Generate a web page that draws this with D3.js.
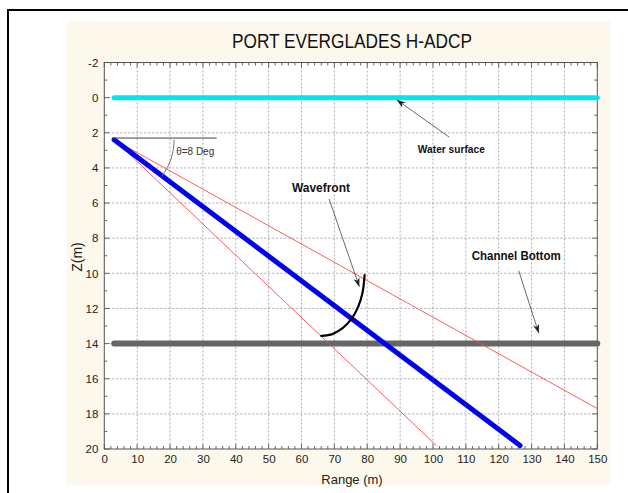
<!DOCTYPE html>
<html><head><meta charset="utf-8">
<script src="https://cdn.jsdelivr.net/npm/d3@7"></script>
<style>body{margin:0;background:#fff}svg{display:block}text{font-family:"Liberation Sans",Arial,sans-serif}</style>
</head><body><svg id="c" width="628" height="493"></svg>
<script>
const title = "PORT EVERGLADES H-ADCP";
const xTicks = [0,10,20,30,40,50,60,70,80,90,100,110,120,130,140,150];
const yTicks = [-2,0,2,4,6,8,10,12,14,16,18,20];
const waterSurface = [[3,0],[150,0]];
const channelBottom = [[3,14],[150,14]];
const beamCenter = [[3,2.4],[126.5,19.8]];
const beamUpper = [[3,2.4],[150,17.7]];
const beamLower = [[3,2.4],[101,19.8]];
const refLine = [[2.3,2.3],[34.2,2.3]];
const wavefront = [[66.0,13.56],[69.5,13.45],[72.6,13.11],[75.25,12.58],[77.3,11.88],[78.6,11.07],[79.2,10.1]];
const labels = [
  {text:"Water surface", x:95.4, y:3.13, len:67, size:11, from:[104.9,2.24], to:[89,0.13]},
  {text:"Wavefront", x:57.1, y:5.35, len:58, size:12.5, from:[68.4,5.77], to:[77.6,10.76]},
  {text:"Channel Bottom", x:111.8, y:9.24, len:89, size:12.5, from:[126.1,9.86], to:[132.2,13.41]}
];

const svg = d3.select("#c");
const L=104.3,R=597.3,T=62.5,B=449;
const x = d3.scaleLinear().domain([0,150]).range([L,R]);
const y = d3.scaleLinear().domain([-2,20]).range([T,B]);

// outer frame
svg.append("rect").attr("x",8).attr("y",10).attr("width",640).attr("height",500).attr("fill","#fff").attr("stroke","#000").attr("stroke-width",2);
// cream panel
svg.append("rect").attr("x",67).attr("y",21).attr("width",543).attr("height",464).attr("fill","#fdf8ec");
// plot bg
svg.append("rect").attr("x",L).attr("y",T).attr("width",R-L).attr("height",B-T).attr("fill","#fff");

// grid
const g = svg.append("g");
g.selectAll(".gx").data(xTicks.slice(1,-1)).join("line").attr("x1",d=>x(d)).attr("x2",d=>x(d)).attr("y1",T).attr("y2",B)
 .attr("stroke","#aaa").attr("stroke-width",1).attr("stroke-dasharray","2,2");
g.selectAll(".gy").data(yTicks.slice(1,-1)).join("line").attr("y1",d=>y(d)).attr("y2",d=>y(d)).attr("x1",L).attr("x2",R)
 .attr("stroke","#aaa").attr("stroke-width",1).attr("stroke-dasharray","2,2");

// axes
const fmt = d => String(d);
const axB = d3.axisBottom(x).tickValues(xTicks).tickSize(0).tickPadding(6).tickFormat(fmt);
const axL = d3.axisLeft(y).tickValues(yTicks).tickSize(0).tickPadding(6).tickFormat(fmt);
const gb = svg.append("g").attr("transform",`translate(0,${B})`).call(axB);
const gl = svg.append("g").attr("transform",`translate(${L},0)`).call(axL);
[gb,gl].forEach(a=>{a.select(".domain").remove();a.selectAll("text").attr("font-size",11.5).attr("fill","#222").attr("font-family","Liberation Sans, Arial, sans-serif");});

// minor/major ticks inside
const minX = d3.range(0,151,2), minY = d3.range(-2,21,1);
const tk = svg.append("g").attr("stroke","#666").attr("stroke-width",1);
minX.forEach(v=>{const len = v%10===0?5:3;
  tk.append("line").attr("x1",x(v)).attr("x2",x(v)).attr("y1",B).attr("y2",B-len);
  tk.append("line").attr("x1",x(v)).attr("x2",x(v)).attr("y1",T).attr("y2",T+len);});
minY.forEach(v=>{const len = v%2===0?5:3;
  tk.append("line").attr("y1",y(v)).attr("y2",y(v)).attr("x1",L).attr("x2",L+len);
  tk.append("line").attr("y1",y(v)).attr("y2",y(v)).attr("x1",R).attr("x2",R-len);});
svg.append("rect").attr("x",L).attr("y",T).attr("width",R-L).attr("height",B-T).attr("fill","none").attr("stroke","#555").attr("stroke-width",1);

const line = d3.line().x(d=>x(d[0])).y(d=>y(d[1]));

// series
svg.append("path").attr("d",line(waterSurface)).attr("stroke","#00e5ee").attr("stroke-width",5).attr("fill","none").attr("stroke-linecap","round");
svg.append("path").attr("d",line(channelBottom)).attr("stroke","#666").attr("stroke-width",6).attr("fill","none").attr("stroke-linecap","round");
svg.append("path").attr("d",line(beamUpper)).attr("stroke","#ff4a4a").attr("stroke-width",0.9).attr("fill","none");
svg.append("path").attr("d",line(beamLower)).attr("stroke","#ff4a4a").attr("stroke-width",0.9).attr("fill","none");
svg.append("path").attr("d",line(beamCenter)).attr("stroke","#0000ee").attr("stroke-width",5).attr("fill","none").attr("stroke-linecap","round");
svg.append("path").attr("d",line(refLine)).attr("stroke","#444").attr("stroke-width",1).attr("fill","none");

// angle arc (pixel-space around transducer)
const ox=x(beamCenter[0][0]), oy=y(beamCenter[0][1]);
const ang = Math.atan2(y(beamCenter[1][1])-oy, x(beamCenter[1][0])-ox);
const rA = 60;
svg.append("path").attr("d",`M${ox+rA},${oy} A${rA},${rA} 0 0 1 ${ox+rA*Math.cos(ang)},${oy+rA*Math.sin(ang)}`)
  .attr("stroke","#777").attr("stroke-width",1).attr("fill","none");
svg.append("text").attr("x",ox+rA+2).attr("y",oy+15).attr("font-size",10).attr("fill","#333").text("θ=8 Deg");

// wavefront
svg.append("path").attr("d",d3.line().x(d=>x(d[0])).y(d=>y(d[1])).curve(d3.curveCatmullRom)(wavefront))
  .attr("stroke","#000").attr("stroke-width",2.2).attr("fill","none").attr("stroke-linecap","round");

// arrow marker
svg.append("defs").append("marker").attr("id","ah").attr("viewBox","0 0 10 10").attr("refX",10).attr("refY",5)
 .attr("markerWidth",9).attr("markerHeight",9).attr("markerUnits","userSpaceOnUse").attr("orient","auto")
 .append("path").attr("d","M0,1.5 L10,5 L0,8.5 L3,5 Z").attr("fill","#222");

labels.forEach(l=>{
  svg.append("line").attr("x1",x(l.from[0])).attr("y1",y(l.from[1])).attr("x2",x(l.to[0])).attr("y2",y(l.to[1]))
   .attr("stroke","#444").attr("stroke-width",0.8).attr("marker-end","url(#ah)");
  svg.append("text").attr("x",x(l.x)).attr("y",y(l.y)).attr("font-size",l.size).attr("font-weight","bold").attr("fill","#111")
   .attr("textLength",l.len).attr("lengthAdjust","spacingAndGlyphs").text(l.text);
});

// title and axis labels
svg.append("text").attr("x",232).attr("y",48).attr("font-size",20).attr("fill","#111")
  .attr("textLength",240).attr("lengthAdjust","spacingAndGlyphs").text(title);
svg.append("text").attr("x",352).attr("y",484).attr("text-anchor","middle").attr("font-size",13).attr("fill","#222").text("Range (m)");
svg.append("text").attr("transform","translate(82,257) rotate(-90)").attr("text-anchor","middle").attr("font-size",14).attr("fill","#222").text("Z(m)");
</script></body></html>
